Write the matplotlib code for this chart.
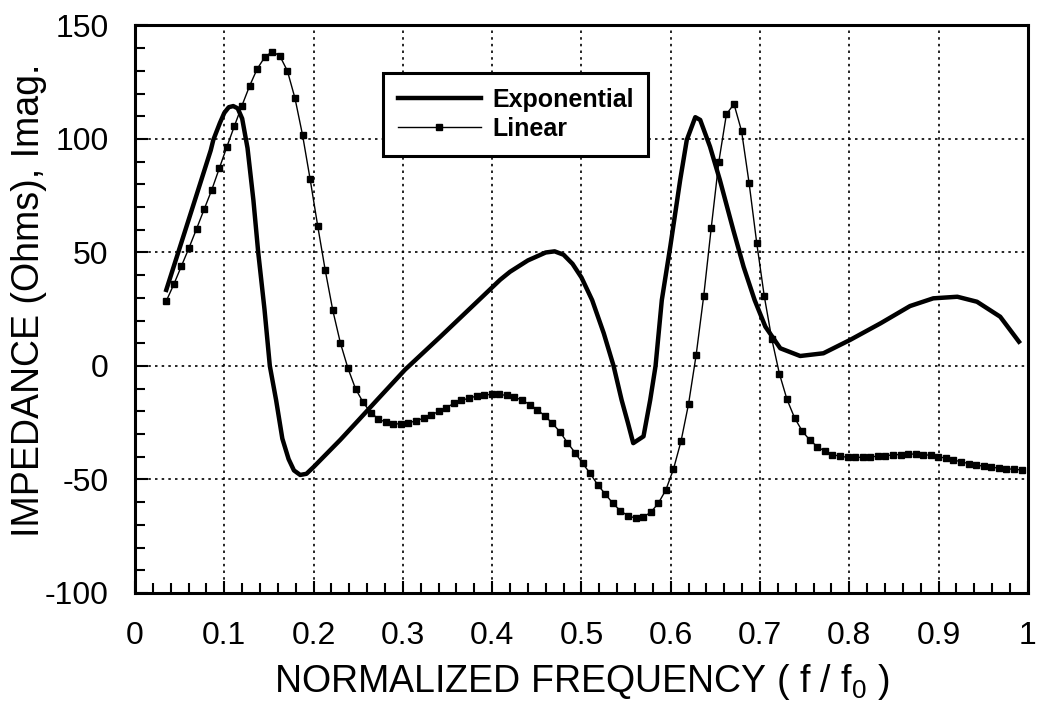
import numpy as np
import matplotlib
matplotlib.use("Agg")
from matplotlib import pyplot as plt

plt.rcParams['font.family'] = ['Liberation Sans', 'DejaVu Sans']
plt.rcParams['mathtext.default'] = 'regular'
plt.rcParams['axes.unicode_minus'] = False

# Exponential taper (thick line, no markers)
exp_x = [0.035, 0.05, 0.065, 0.0848, 0.0877, 0.095, 0.10, 0.105, 0.11, 0.115,
         0.12, 0.126, 0.1326, 0.138, 0.145, 0.151, 0.158, 0.165, 0.172, 0.178,
         0.185, 0.192, 0.20, 0.21, 0.23, 0.25, 0.271, 0.3025, 0.342, 0.385,
         0.409, 0.42, 0.44, 0.46, 0.47, 0.48, 0.49, 0.50, 0.512, 0.525,
         0.536, 0.545, 0.552, 0.558, 0.5695, 0.577, 0.583, 0.590, 0.5995, 0.6106,
         0.618, 0.6275, 0.633, 0.644, 0.655, 0.670, 0.6816, 0.694, 0.706, 0.7227,
         0.745, 0.771, 0.801, 0.835, 0.868, 0.894, 0.921, 0.943, 0.969, 0.990]
exp_y = [33.5, 52, 70.5, 95, 99.6, 107, 111.5, 114, 114.5, 113.5,
         109, 96, 73, 50, 25, 0, -15, -32, -41, -46,
         -48, -47.5, -44.5, -40.5, -32.5, -24, -15, -1.6, 12.9, 29,
         38, 41.5, 46.5, 50, 50.5, 49, 45, 39, 29, 14.4,
         0, -15, -25, -34, -31, -15, 0, 29, 52.6, 82,
         99.6, 109.6, 108.4, 96.6, 82, 60, 43.7, 29, 17.3, 7.8,
         4.4, 5.6, 11.5, 18.8, 26.4, 29.8, 30.5, 28.3, 21.7, 10.7]

# Linear taper (thin line with square markers), uniform frequency sampling
lin_x = np.linspace(0.035, 0.993, 114)
lin_y = [28.6, 36, 44, 52, 60.4, 69, 77.5, 87, 96.5, 105.7,
         114.7, 123.3, 130.8, 136, 138.5, 136.6, 130, 118, 101.8, 82.4,
         61.8, 42.2, 24.5, 10.2, -1, -10, -16, -20.5, -23.3, -24.8,
         -25.5, -25.5, -25, -24.2, -23, -21.6, -20, -18.3, -16.5, -15.2,
         -14.1, -13.3, -12.8, -12.5, -12.5, -13, -13.8, -15, -17, -19.2,
         -22, -25.2, -29, -33.8, -38.2, -42.9, -47.3, -52.4, -56.4, -60.5,
         -63.8, -66, -67, -66.5, -64.5, -60.5, -54.6, -45.5, -33.2, -16.7,
         4.8, 30.8, 61, 90, 110.9, 115.4, 103.5, 80.5, 54.3, 30.8,
         11.8, -3.4, -14.7, -22.8, -28.6, -32.6, -35.5, -37.6, -39, -39.8,
         -40.2, -40.3, -40.2, -40, -39.8, -39.5, -39.2, -39, -38.8, -38.8,
         -39, -39.4, -40, -40.6, -41.4, -42.2, -43, -43.6, -44.2, -44.6,
         -45, -45.3, -45.5, -45.8]

fig = plt.figure(figsize=(10.37, 7.02), dpi=100)
ax = fig.add_axes([0.1302, 0.1553, 0.861, 0.8084])

ax.plot(exp_x, exp_y, color='black', linewidth=3.2, label='Exponential')
ax.plot(lin_x, lin_y, color='black', linewidth=1.0, marker='s',
        markersize=4.5, label='Linear')

ax.set_xlim(0, 1)
ax.set_ylim(-100, 150)
ax.set_xticks(np.arange(0, 1.01, 0.1))
ax.set_xticklabels(['0', '0.1', '0.2', '0.3', '0.4', '0.5',
                    '0.6', '0.7', '0.8', '0.9', '1'])
ax.set_yticks([-100, -50, 0, 50, 100, 150])
ax.set_xticks(np.arange(0, 1.001, 0.02), minor=True)
ax.set_yticks(np.arange(-100, 151, 10), minor=True)

ax.grid(True, which='major', color='black', linestyle=(0, (1.5, 2.5)),
        linewidth=1.2)
ax.tick_params(which='both', direction='in', width=1.5, labelsize=23)
ax.tick_params(axis='x', which='major', length=9, pad=20)
ax.tick_params(axis='y', which='major', length=9, pad=19)
ax.tick_params(which='minor', length=7)
for s in ax.spines.values():
    s.set_linewidth(2.2)

ax.set_xlabel('NORMALIZED FREQUENCY ( f / f$_0$ )', fontsize=27, labelpad=8)
ax.set_ylabel('IMPEDANCE (Ohms), Imag.', fontsize=27)
ax.yaxis.set_label_coords(-0.099, 0.515)

leg = ax.legend(loc='upper left', bbox_to_anchor=(0.278, 0.768, 0.296, 0.148),
                mode='expand', numpoints=1, fancybox=False, frameon=True,
                prop={'size': 18, 'weight': 'bold'}, handlelength=3.3,
                handletextpad=0.45, borderaxespad=0, borderpad=0.6,
                labelspacing=0.2)
leg.get_frame().set_edgecolor('black')
leg.get_frame().set_linewidth(2.2)
leg.get_frame().set_alpha(1)

fig.savefig('out.png', dpi=100)
